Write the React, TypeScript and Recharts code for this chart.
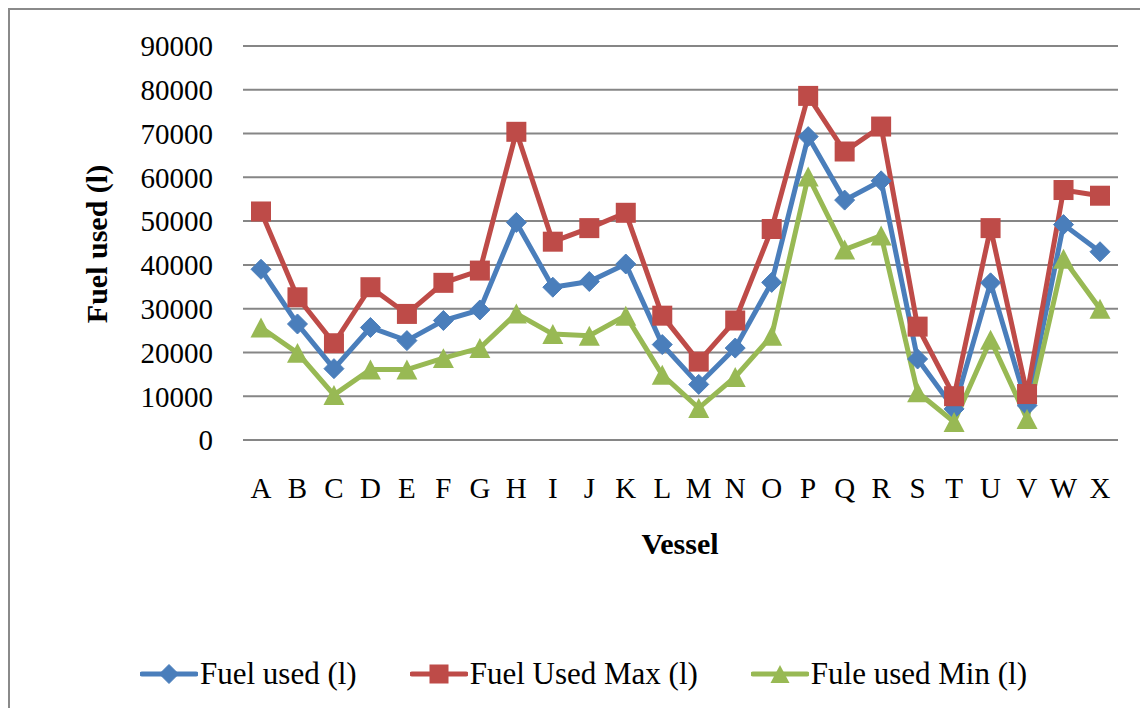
import { LineChart, Line, XAxis, YAxis, CartesianGrid, Legend, Label } from 'recharts';

const vessels = ['A', 'B', 'C', 'D', 'E', 'F', 'G', 'H', 'I', 'J', 'K', 'L', 'M', 'N', 'O', 'P', 'Q', 'R', 'S', 'T', 'U', 'V', 'W', 'X'];
const fuelUsed = [39000, 26500, 16300, 25700, 22700, 27300, 29700, 49700, 34900, 36200, 40200, 21800, 12700, 21000, 36000, 69300, 54800, 59200, 18500, 7100, 35900, 7900, 49200, 43000];
const fuelMax = [52200, 32600, 22100, 34900, 28800, 35900, 38700, 70400, 45300, 48400, 51900, 28400, 17900, 27300, 48200, 78600, 65900, 71600, 25900, 10000, 48400, 10500, 57100, 55800];
const fuelMin = [25700, 19900, 10300, 16100, 16100, 18700, 21000, 28900, 24200, 23800, 28400, 14900, 7300, 14400, 23800, 60200, 43500, 46700, 10900, 4100, 22900, 4800, 41400, 30000];
const yTicks = [0, 10000, 20000, 30000, 40000, 50000, 60000, 70000, 80000, 90000];

const data = vessels.map((v, i) => ({ vessel: v, used: fuelUsed[i], max: fuelMax[i], min: fuelMin[i] }));

const BLUE = '#4a7ebb';
const RED = '#be4b48';
const GREEN = '#98b954';
const GRID = '#868686';
const FONT = '"Liberation Serif", "Times New Roman", serif';

function Diamond(cx: number, cy: number, r: number, fill: string, key?: any) {
  return <polygon key={key} points={`${cx},${cy - r} ${cx + r},${cy} ${cx},${cy + r} ${cx - r},${cy}`} fill={fill} stroke={fill} strokeWidth={1} />;
}
function Square(cx: number, cy: number, r: number, fill: string, key?: any) {
  return <rect key={key} x={cx - r} y={cy - r} width={r * 2} height={r * 2} fill={fill} />;
}
function Triangle(cx: number, cy: number, r: number, fill: string, key?: any) {
  const h = r * 0.95;
  return <polygon key={key} points={`${cx},${cy - h} ${cx + r},${cy + h} ${cx - r},${cy + h}`} fill={fill} />;
}

const legendItems = [
  { name: 'Fuel used (l)', color: BLUE, shape: Diamond },
  { name: 'Fuel Used Max (l)', color: RED, shape: Square },
  { name: 'Fule used Min (l)', color: GREEN, shape: Triangle },
];

function renderLegend() {
  return (
    <div style={{ display: 'flex', alignItems: 'center', fontFamily: FONT, fontSize: 31, color: '#000' }}>
      {legendItems.map((item) => (
        <div key={item.name} style={{ display: 'flex', alignItems: 'center', marginRight: 53 }}>
          <svg width={58} height={24} style={{ marginRight: 2 }}>
            <line x1={2} y1={12} x2={56} y2={12} stroke={item.color} strokeWidth={5} strokeLinecap="round" />
            {item.shape(29, 12, 9.5, item.color)}
          </svg>
          <span>{item.name}</span>
        </div>
      ))}
    </div>
  );
}

export default function App() {
  return (
    <>
      <style>{'html,body{overflow:hidden}'}</style>
      <div style={{ width: 1136, height: 716, border: '2px solid #8a8a8a', background: '#fff' }}>
        <LineChart width={1136} height={716} data={data} margin={{ top: 36, right: 28, left: 0, bottom: 186 }}>
          <CartesianGrid horizontal vertical={false} stroke={GRID} strokeWidth={2} />
          <XAxis
            dataKey="vessel"
            interval={0}
            padding={{ left: 18, right: 18 }}
            axisLine={false}
            tickLine={false}
            tickSize={0}
            tickMargin={37}
            height={100}
            tick={{ fill: '#000', fontSize: 29, fontFamily: FONT }}
          >
            <Label
              content={() => (
                <text x={670} y={544} textAnchor="middle" fontFamily={FONT} fontSize={30} fontWeight="bold" fill="#000">
                  Vessel
                </text>
              )}
            />
          </XAxis>
          <YAxis
            domain={[0, 90000]}
            ticks={yTicks}
            interval={0}
            width={233}
            axisLine={false}
            tickLine={false}
            tickSize={0}
            tickMargin={30}
            tick={{ fill: '#000', fontSize: 29, fontFamily: FONT }}
          >
            <Label
              content={() => (
                <text transform="translate(97,234) rotate(-90)" textAnchor="middle" fontFamily={FONT} fontSize={30} fontWeight="bold" fill="#000">
                  Fuel used (l)
                </text>
              )}
            />
          </YAxis>
          <Legend
            verticalAlign="middle"
            layout="horizontal"
            content={renderLegend}
            wrapperStyle={{ top: 646, left: 130, width: 'auto' }}
          />
          <Line
            dataKey="used"
            name="Fuel used (l)"
            stroke={BLUE}
            strokeWidth={5}
            isAnimationActive={false}
            dot={(p: any) => Diamond(p.cx, p.cy, 10, BLUE, `d${p.index}`)}
          />
          <Line
            dataKey="max"
            name="Fuel Used Max (l)"
            stroke={RED}
            strokeWidth={5}
            isAnimationActive={false}
            dot={(p: any) => Square(p.cx, p.cy, 10, RED, `s${p.index}`)}
          />
          <Line
            dataKey="min"
            name="Fule used Min (l)"
            stroke={GREEN}
            strokeWidth={5}
            isAnimationActive={false}
            dot={(p: any) => Triangle(p.cx, p.cy, 10.5, GREEN, `t${p.index}`)}
          />
        </LineChart>
      </div>
    </>
  );
}
